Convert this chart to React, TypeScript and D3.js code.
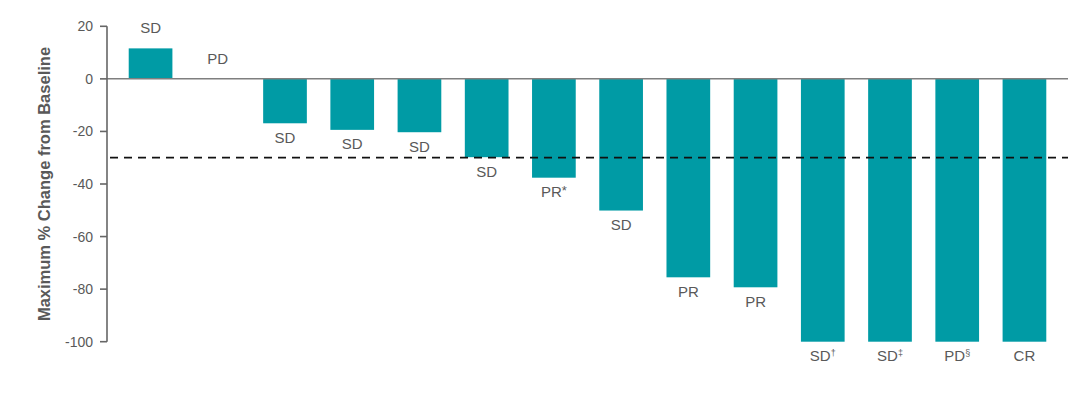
import * as d3 from 'd3';

const patients = ['P1', 'P2', 'P3', 'P4', 'P5', 'P6', 'P7', 'P8', 'P9', 'P10', 'P11', 'P12', 'P13', 'P14'];
const changes = [11.6, 0, -16.9, -19.4, -20.3, -29.8, -37.6, -50.1, -75.5, -79.3, -100, -100, -100, -100];
const responses = ['SD', 'PD', 'SD', 'SD', 'SD', 'SD', 'PR', 'SD', 'PR', 'PR', 'SD', 'SD', 'PD', 'CR'];
const footnotes = ['', '', '', '', '', '', '*', '', '', '', '†', '‡', '§', ''];
const yTicks = [20, 0, -20, -40, -60, -80, -100];
const threshold = -30;

const W = 1080;
const H = 395;
const TEAL = '#009ba5';
const GREY = '#595959';
const FONT = '"Liberation Sans", Arial, sans-serif';

export default function App() {
  const x = d3.scaleBand<string>()
    .domain(patients)
    .range([107, 1068])
    .paddingInner(0.35)
    .paddingOuter(0.323);

  const y = d3.scaleLinear().domain([-100, 20]).range([341.7, 26.3]);

  const bars = patients.map((p, i) => {
    const v = changes[i];
    const x0 = x(p) as number;
    const cx = x0 + x.bandwidth() / 2;
    const top = Math.min(y(v), y(0));
    const h = Math.abs(y(v) - y(0));
    const labelY = v >= 0 ? y(v) - 15 : y(v) + 19.5;
    const note = footnotes[i];
    return (
      <g key={p}>
        {h > 0 && <rect x={x0} y={top} width={x.bandwidth()} height={h} fill={TEAL} />}
        <text x={cx} y={labelY} textAnchor="middle" fontSize={15} fill={GREY}>
          {responses[i]}
          {note === '*' && <tspan fontSize={13} dy={-2}>{note}</tspan>}
          {note && note !== '*' && <tspan fontSize={9} dy={-5}>{note}</tspan>}
        </text>
      </g>
    );
  });

  return (
    <svg
      width={W}
      height={H}
      style={{ position: 'absolute', left: 0, top: 0, fontFamily: FONT }}
    >
      <rect width={W} height={H} fill="#fff" />
      {bars}
      {/* zero line */}
      <line x1={107} x2={1068} y1={y(0)} y2={y(0)} stroke="#7f7f7f" strokeWidth={1.5} />
      {/* threshold */}
      <line
        x1={110}
        x2={1068}
        y1={y(threshold)}
        y2={y(threshold)}
        stroke="#111"
        strokeWidth={1.8}
        strokeDasharray="8,6"
      />
      {/* y axis */}
      <line x1={107} x2={107} y1={y(20)} y2={y(-100)} stroke="#666" strokeWidth={1.6} />
      {yTicks.map((t) => (
        <g key={t}>
          <line x1={100} x2={107} y1={y(t)} y2={y(t)} stroke="#666" strokeWidth={1.6} />
          <text x={93} y={y(t) + 5} textAnchor="end" fontSize={14} fill={GREY}>
            {t}
          </text>
        </g>
      ))}
      <text
        transform={`translate(50, 184) rotate(-90)`}
        textAnchor="middle"
        fontSize={16.5}
        fontWeight="bold"
        fill={GREY}
      >
        Maximum % Change from Baseline
      </text>
    </svg>
  );
}
